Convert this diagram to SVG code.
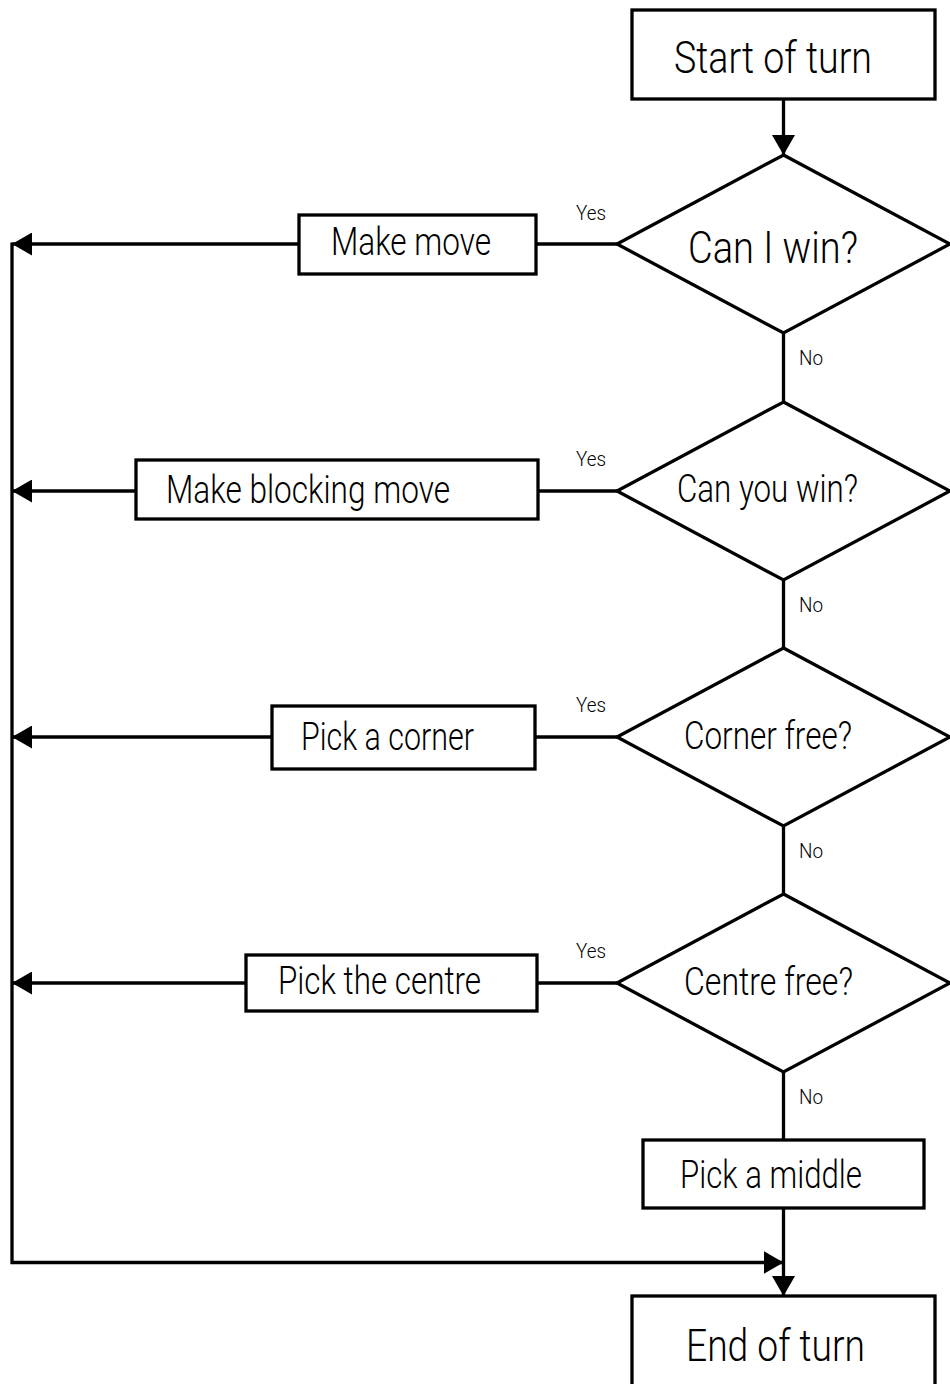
<svg xmlns="http://www.w3.org/2000/svg" width="950" height="1384" viewBox="0 0 950 1384">
<style>
.box{fill:#fff;stroke:#000;stroke-width:3.3}
.ln{fill:none;stroke:#000;stroke-width:3.3}
.t{font-family:"Roboto","Liberation Sans Narrow","Liberation Sans",sans-serif;font-weight:300;fill:#000}
.big{font-size:45px}
.mid{font-size:39px}
.sm{font-size:20px}
</style>
<defs>
<marker id="ah" markerUnits="userSpaceOnUse" viewBox="0 0 20 23" refX="20" refY="11.5" markerWidth="20" markerHeight="23" orient="auto">
<path d="M0,0 L20,11.5 L0,23 z" fill="#000"/>
</marker>
</defs>
<rect width="950" height="1384" fill="#fff"/>
<g id="connectors">
<path class="ln" d="M783.5,99 V155" marker-end="url(#ah)"/>
<path class="ln" d="M783.5,333 V402"/>
<path class="ln" d="M783.5,580 V648"/>
<path class="ln" d="M783.5,826 V894"/>
<path class="ln" d="M783.5,1072 V1140"/>
<path class="ln" d="M783.5,1208 V1296" marker-end="url(#ah)"/>
<path class="ln" d="M617,244 H536"/>
<path class="ln" d="M299,244 H12" marker-end="url(#ah)"/>
<path class="ln" d="M617,491 H538"/>
<path class="ln" d="M136,491 H12" marker-end="url(#ah)"/>
<path class="ln" d="M617,737 H535"/>
<path class="ln" d="M272,737 H12" marker-end="url(#ah)"/>
<path class="ln" d="M617,983 H537"/>
<path class="ln" d="M246,983 H12" marker-end="url(#ah)"/>
<path class="ln" d="M12,242.5 V1262.5 H783.5" marker-end="url(#ah)"/>
<text class="t sm" x="576" y="220" textLength="30" lengthAdjust="spacingAndGlyphs">Yes</text>
<text class="t sm" x="576" y="466" textLength="30" lengthAdjust="spacingAndGlyphs">Yes</text>
<text class="t sm" x="576" y="712" textLength="30" lengthAdjust="spacingAndGlyphs">Yes</text>
<text class="t sm" x="576" y="958" textLength="30" lengthAdjust="spacingAndGlyphs">Yes</text>
<text class="t sm" x="799" y="365" textLength="24" lengthAdjust="spacingAndGlyphs">No</text>
<text class="t sm" x="799" y="612" textLength="24" lengthAdjust="spacingAndGlyphs">No</text>
<text class="t sm" x="799" y="858" textLength="24" lengthAdjust="spacingAndGlyphs">No</text>
<text class="t sm" x="799" y="1104" textLength="24" lengthAdjust="spacingAndGlyphs">No</text>
</g>
<g id="start">
<rect class="box" x="632" y="10" width="303" height="89"/>
<text class="t big" x="674" y="73" textLength="198" lengthAdjust="spacingAndGlyphs">Start of turn</text>
</g>
<g id="d1">
<polygon class="box" points="783.5,155 950,244 783.5,333 617,244"/>
<text class="t big" x="688" y="263" textLength="170" lengthAdjust="spacingAndGlyphs">Can I win?</text>
</g>
<g id="d2">
<polygon class="box" points="783.5,402 950,491 783.5,580 617,491"/>
<text class="t mid" x="677" y="502" textLength="181" lengthAdjust="spacingAndGlyphs">Can you win?</text>
</g>
<g id="d3">
<polygon class="box" points="783.5,648 950,737 783.5,826 617,737"/>
<text class="t mid" x="684" y="749" textLength="168" lengthAdjust="spacingAndGlyphs">Corner free?</text>
</g>
<g id="d4">
<polygon class="box" points="783.5,894 950,983 783.5,1072 617,983"/>
<text class="t mid" x="684" y="995" textLength="169" lengthAdjust="spacingAndGlyphs">Centre free?</text>
</g>
<g id="b1">
<rect class="box" x="299" y="215" width="237" height="59"/>
<text class="t mid" x="331" y="255" textLength="160" lengthAdjust="spacingAndGlyphs">Make move</text>
</g>
<g id="b2">
<rect class="box" x="136" y="460" width="402" height="59"/>
<text class="t mid" x="166" y="503" textLength="284" lengthAdjust="spacingAndGlyphs">Make blocking move</text>
</g>
<g id="b3">
<rect class="box" x="272" y="706" width="263" height="63"/>
<text class="t mid" x="301" y="750" textLength="173" lengthAdjust="spacingAndGlyphs">Pick a corner</text>
</g>
<g id="b4">
<rect class="box" x="246" y="955" width="291" height="56"/>
<text class="t mid" x="278" y="994" textLength="203" lengthAdjust="spacingAndGlyphs">Pick the centre</text>
</g>
<g id="b5">
<rect class="box" x="643" y="1140" width="281" height="68"/>
<text class="t mid" x="680" y="1188" textLength="182" lengthAdjust="spacingAndGlyphs">Pick a middle</text>
</g>
<g id="end">
<rect class="box" x="632" y="1296" width="303" height="100"/>
<text class="t big" x="686" y="1361" textLength="179" lengthAdjust="spacingAndGlyphs">End of turn</text>
</g>
</svg>
